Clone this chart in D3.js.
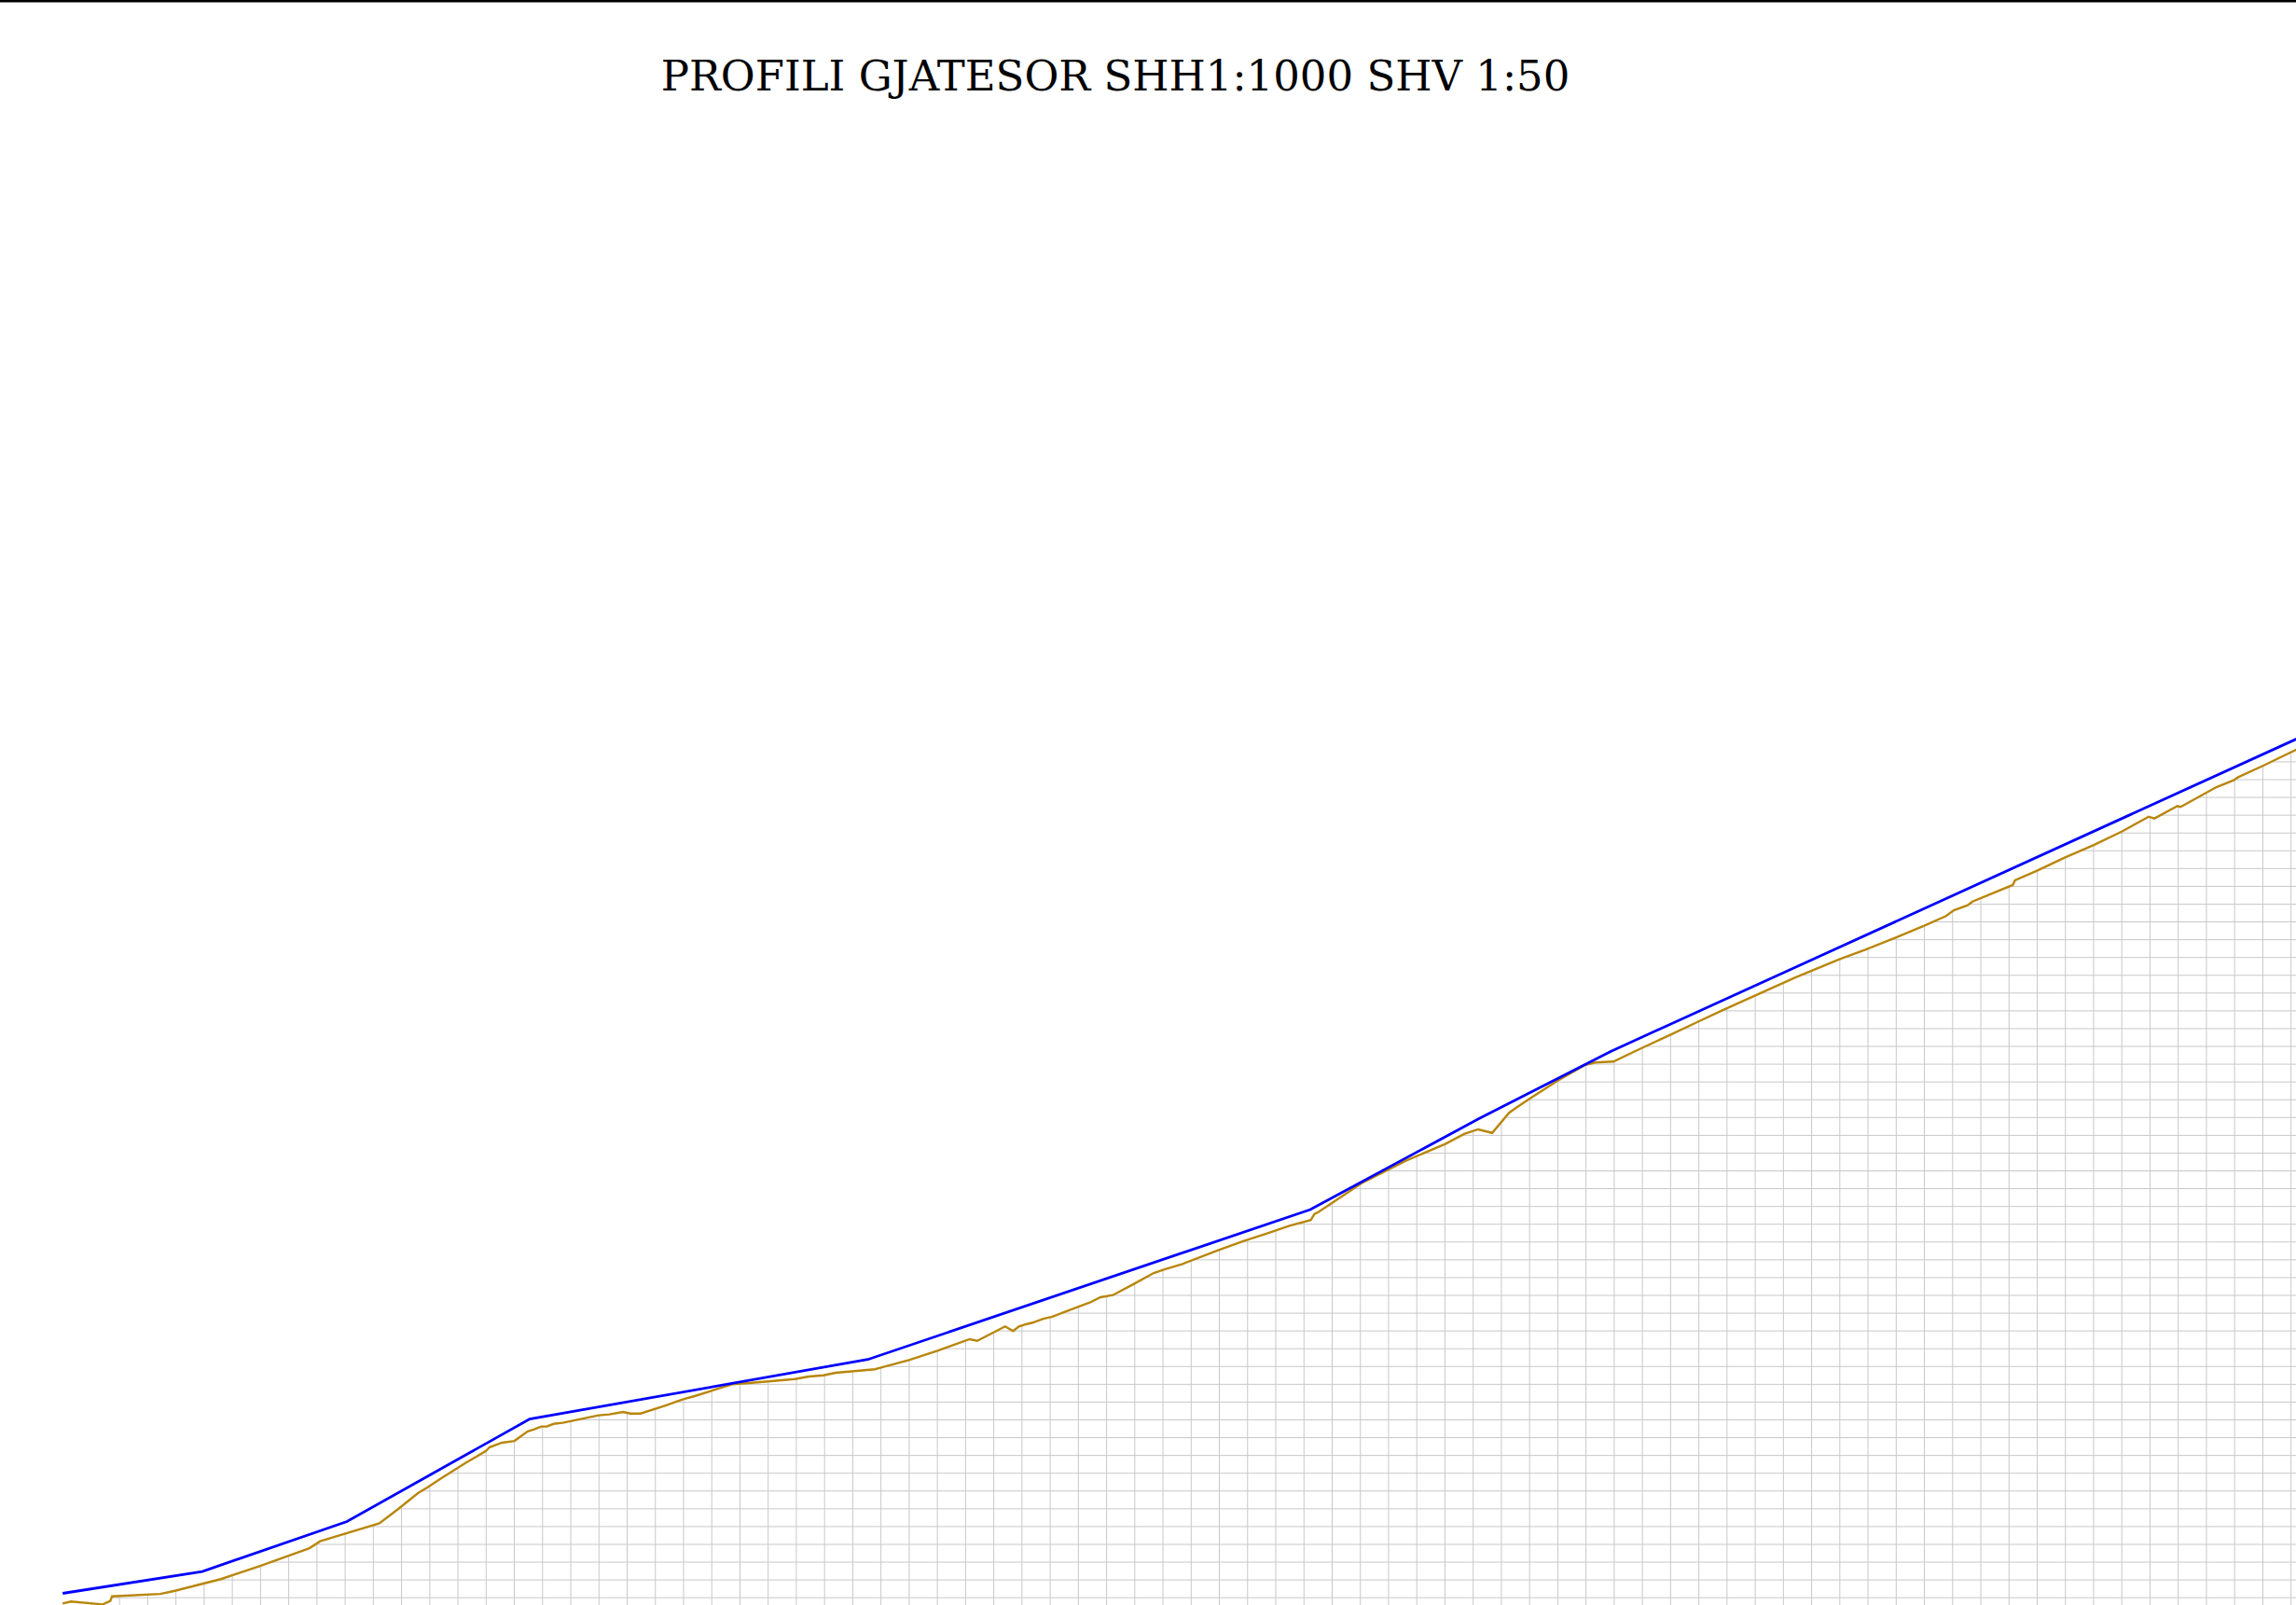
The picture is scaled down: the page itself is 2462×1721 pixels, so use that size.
<!DOCTYPE html>
<html>
<head>
<meta charset="utf-8">
<script src="https://cdn.jsdelivr.net/npm/d3@7"></script>
<style>
  body { margin: 0; background: #fff; }
  svg { display: block; }
</style>
</head>
<body>
<div id="viz"></div>
<script>

var titleText = "PROFILI GJATESOR SHH1:1000 SHV 1:50";

// projected line (blue): station (m), elevation (m)
var designStation = [0, 49.5, 100.8, 165.6, 285.5, 442.4, 502.2, 548.9, 800];
var designElev    = [300.22, 301.45, 304.26, 310.02, 313.37, 321.80, 326.91, 330.69, 348.83];

// ground line (terrain)
var terrainStation = [0, 2.9, 14.2, 16.9, 17.5, 34.6, 39.5, 56.1, 69.8, 87.5, 91.3, 112.3, 118.9, 126.0, 129.3, 134.3,
  143.1, 150.1, 151.4, 155.8, 160.2, 164.9, 167.2, 169.7, 171.6, 174.1, 177.3, 190.0, 193.8, 198.8, 201.3, 204.9,
  214.0, 217.2, 220.3, 224.1, 237.4, 244.4, 259.6, 264.6, 269.7, 274.1, 288.0, 289.9, 300.1, 310.2, 321.6, 324.3,
  334.2, 337.0, 339.1, 341.6, 343.9, 347.7, 350.9, 357.8, 364.2, 368.0, 372.4, 379.3, 386.9, 390.7, 397.1, 409.7,
  418.6, 426.8, 435.0, 442.6, 443.9, 445.1, 460.6, 476.1, 490.3, 497.0, 501.9, 506.9, 512.9, 515.2, 520.1, 530.0,
  540.0, 543.5, 549.9, 559.8, 569.7, 579.6, 588.5, 599.5, 614.4, 630.2, 639.2, 650.2, 660.1, 667.8, 670.6, 675.5, 677.2,
  691.5, 692.3, 700.3, 709.7, 720.2, 730.1, 739.7, 741.7, 749.9, 751.0, 763.7, 769.8, 771.4, 780.3, 791.9, 800];
var terrainElev = [299.65, 299.76, 299.60, 299.79, 300.05, 300.19, 300.35, 301.02, 301.75, 302.76, 303.15, 304.16, 304.95, 305.86, 306.17, 306.70,
  307.57, 308.23, 308.44, 308.69, 308.79, 309.33, 309.44, 309.60, 309.60, 309.75, 309.81, 310.23, 310.28, 310.42, 310.33, 310.33,
  310.79, 310.98, 311.15, 311.31, 311.98, 312.06, 312.27, 312.41, 312.48, 312.62, 312.82, 312.90, 313.34, 313.86, 314.51, 314.42,
  315.23, 314.97, 315.23, 315.35, 315.44, 315.66, 315.77, 316.19, 316.57, 316.87, 316.99, 317.57, 318.23, 318.44, 318.74, 319.51,
  320.02, 320.44, 320.89, 321.21, 321.55, 321.64, 323.28, 324.53, 325.49, 326.05, 326.31, 326.11, 327.24, 327.50, 328.02, 329.04,
  329.94, 330.07, 330.12, 330.87, 331.60, 332.34, 333.00, 333.79, 334.85, 335.89, 336.41, 337.11, 337.76, 338.30, 338.63, 338.91, 339.12,
  340.05, 340.31, 340.87, 341.57, 342.30, 343.05, 343.89, 343.79, 344.49, 344.44, 345.55, 345.94, 346.11, 346.76, 347.65, 348.25];

// grid every 10 m along, 1 m in height
var gridStations = d3.range(0, 801, 10);
var gridElevs = d3.range(295, 391, 1);

var W = 2462, H = 1721;

var svg = d3.select("#viz").append("svg")
    .attr("width", W)
    .attr("height", H);

var x = d3.scaleLinear().domain([0, 800]).range([67.2, 67.2 + 80 * 30.24]);
var y = d3.scaleLinear().domain([300, 390]).range([1712.7, 1712.7 - 90 * 19.07]);

var terrain = terrainStation.map(function(s, i){ return {s: s, e: terrainElev[i]}; });
var design = designStation.map(function(s, i){ return {s: s, e: designElev[i]}; });

// grid only below the ground line
svg.append("clipPath")
    .attr("id", "ground")
  .append("path")
    .attr("d", d3.area()
        .x(function(d){ return x(d.s); })
        .y0(H + 20)
        .y1(function(d){ return y(d.e); })(terrain));

var grid = svg.append("g").attr("clip-path", "url(#ground)");

grid.append("g")
    .attr("class", "vgrid")
    .attr("transform", "translate(0," + (H + 20) + ")")
    .call(d3.axisBottom(x).tickValues(gridStations).tickSize(-(H + 40)).tickFormat(""));

grid.append("g")
    .attr("class", "hgrid")
    .call(d3.axisLeft(y).tickValues(gridElevs).tickSize(-(W + 40)).tickFormat(""));

grid.selectAll(".domain").remove();
grid.selectAll(".tick line")
    .attr("stroke", "#c8c8c8")
    .attr("stroke-width", 1);

var line = d3.line()
    .x(function(d){ return x(d.s); })
    .y(function(d){ return y(d.e); });

svg.append("path")
    .datum(terrain)
    .attr("d", line)
    .attr("fill", "none")
    .attr("stroke", "#b8860b")
    .attr("stroke-width", 2.4);

svg.append("path")
    .datum(design)
    .attr("d", line)
    .attr("fill", "none")
    .attr("stroke", "#0000ff")
    .attr("stroke-width", 2.8);

// top frame edge
svg.append("line")
    .attr("x1", 0).attr("x2", W)
    .attr("y1", 1.2).attr("y2", 1.2)
    .attr("stroke", "#000")
    .attr("stroke-width", 2.5);

svg.append("text")
    .attr("x", 1196)
    .attr("y", 97)
    .attr("text-anchor", "middle")
    .style("font-family", "'DejaVu Serif', serif")
    .style("font-size", "45px")
    .style("fill", "#000")
    .text(titleText);

</script>
</body>
</html>
